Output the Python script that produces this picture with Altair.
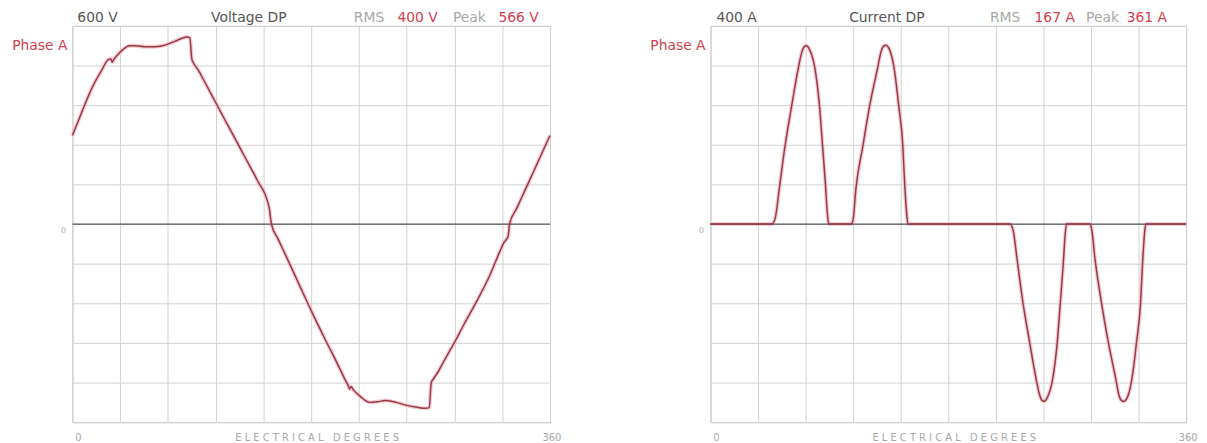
import altair as alt
import pandas as pd

# ---------------- data ----------------
voltage_deg = [0, 5, 10, 16, 22, 27, 29, 30, 31.5, 34, 38, 43, 48, 55, 62, 68, 74, 80, 86, 88.5,
               90, 91, 95, 100, 108, 115, 120, 130, 140, 147, 148.5, 150, 155, 160, 170, 180,
               190, 200, 206, 208, 209, 210, 212, 217, 224, 230, 236, 244, 252, 260, 266, 269,
               270.5, 272, 276, 281, 287.5, 295, 305, 315, 322, 325, 328.5, 329.5, 335, 340,
               345, 350, 355, 360]
voltage_val = [268, 318, 368, 422, 465, 498, 500, 490, 500, 512, 528, 540, 540, 537, 537, 540, 548,
               558, 566, 565, 500, 490, 465, 428, 368, 315, 278, 203, 128, 70, 45, 0, -45, -88,
               -175, -262, -345, -425, -475, -490, -500, -492, -503, -522, -540, -538, -534,
               -540, -549, -555, -558, -556, -480, -470, -445, -408, -362, -305, -232, -152,
               -85, -58, -36, 0, 48, 92, 136, 180, 224, 268]

current_deg = [0, 46.5, 49, 52, 56, 61.5, 66.7, 69, 71, 72.75, 75, 78.75, 82.5, 84.75, 87, 88.5, 89.5,
               106.5, 108, 110, 115.5, 120, 126.7, 129, 131, 132.75, 135.5, 138.75, 142.5, 145.5, 147,
               148.5, 149.5,
               226.5, 229, 232, 236, 241.5, 246.7, 249, 251, 252.75, 255, 258.75, 262.5, 264.75, 267,
               268.5, 269.5,
               287, 288.5, 291, 296, 300.5, 307, 309, 311, 312.75, 315.5, 318.75, 322.5, 325.5, 327,
               328.5, 329.5, 360]
current_val = [0, 0, 12, 70, 150, 240, 318, 346, 358, 360, 352, 318, 238, 160, 80, 20, 0,
               0, 10, 70, 160, 232, 318, 347, 359, 361, 352, 318, 238, 160, 80, 20, 0,
               0, -12, -70, -150, -238, -316, -344, -356, -358, -350, -316, -238, -160, -80, -20, 0,
               0, -10, -70, -160, -230, -316, -344, -356, -358, -350, -316, -238, -160, -80, -20, 0, 0]

voltage_header = ["600 V", "Voltage DP", "RMS", "400 V", "Peak", "566 V"]
current_header = ["400 A", "Current DP", "RMS", "167 A", "Peak", "361 A"]
phase_label = "Phase A"
x_labels = ["0", "360"]
x_title = "E L E C T R I C A L\u00a0\u00a0\u00a0D E G R E E S"
y_zero_label = "0"

# ---------------- styling ----------------
FONT = "DejaVu Sans"
GRID = "#d0d0d0"
LINE = "#983a46"
HALO = "#f2b5bf"
RED = "#d0404f"
DARK = "#555555"
LIGHT = "#a8a8a8"
H = 400
FS = 14


def txt(s, x, y, color, size=FS, align="left", xdatum=False, dx=0, dy=0):
    enc = {"text": "t:N", "y": alt.value(y)}
    enc["x"] = alt.datum(x) if xdatum else alt.value(x)
    return alt.Chart(pd.DataFrame({"t": [s]})).mark_text(
        align=align, baseline="middle", color=color, fontSize=size, font=FONT, dx=dx, dy=dy
    ).encode(**enc)


def panel(deg, val, ymax, header, width, pos):
    df = pd.DataFrame({"deg": deg, "val": val})
    x = alt.X("deg:Q", scale=alt.Scale(domain=[0, 360], nice=False, zero=False),
              axis=alt.Axis(values=list(range(0, 361, 36)), tickCount=30, grid=True, labels=False,
                            ticks=False, domain=False, title=None, gridColor=GRID, gridWidth=1))
    step = ymax // 5
    y = alt.Y("val:Q", scale=alt.Scale(domain=[-ymax, ymax], nice=False),
              axis=alt.Axis(values=[-ymax + i * step for i in range(11)], tickCount=30, grid=True,
                            labels=False, ticks=False, domain=False, title=None,
                            gridColor=GRID, gridWidth=1))
    zero = alt.Chart(pd.DataFrame({"z": [0]})).mark_rule(color=DARK, strokeWidth=1.3).encode(y=alt.datum(0))
    halo = alt.Chart(df).mark_line(color=HALO, strokeWidth=4, opacity=0.7, interpolate="monotone").encode(x=x, y=y)
    core = alt.Chart(df).mark_line(color=LINE, strokeWidth=1.5, interpolate="monotone").encode(x="deg:Q", y="val:Q")
    hy = -8
    layers = [
        halo, zero, core,
        txt(header[0], pos[0], hy, DARK),
        txt(header[1], pos[1], hy, DARK, align="center"),
        txt(header[2], pos[2], hy, LIGHT),
        txt(header[3], pos[3], hy, RED),
        txt(header[4], pos[4], hy, LIGHT),
        txt(header[5], pos[5], hy, RED),
        txt(phase_label, -5, 20, RED, align="right"),
        txt(y_zero_label, -9, H / 2 + 7, LIGHT, 8, align="center"),
        txt(x_labels[0], 0, H + 16, LIGHT, 10, align="center", xdatum=True, dx=6),
        txt(x_labels[1], 360, H + 16, LIGHT, 10, align="center", xdatum=True, dx=2),
        txt(x_title, width / 2 + 6, H + 16, LIGHT, 10, align="center"),
    ]
    return alt.layer(*layers).properties(width=width, height=H)


left = panel(voltage_deg, voltage_val, 600, voltage_header, 482, [5, 178, 284, 328, 384, 430])
right = panel(current_deg, current_val, 400, current_header, 480, [6, 178, 282, 327, 379, 420])

chart = alt.hconcat(left, right, spacing=162, bounds="flush").properties(
    padding={"left": 3, "top": 0, "right": 0, "bottom": 0}
).configure_view(stroke="#c8c8c8", strokeWidth=1)

chart.save("out.html", embed_options={"renderer": "svg", "actions": False})
